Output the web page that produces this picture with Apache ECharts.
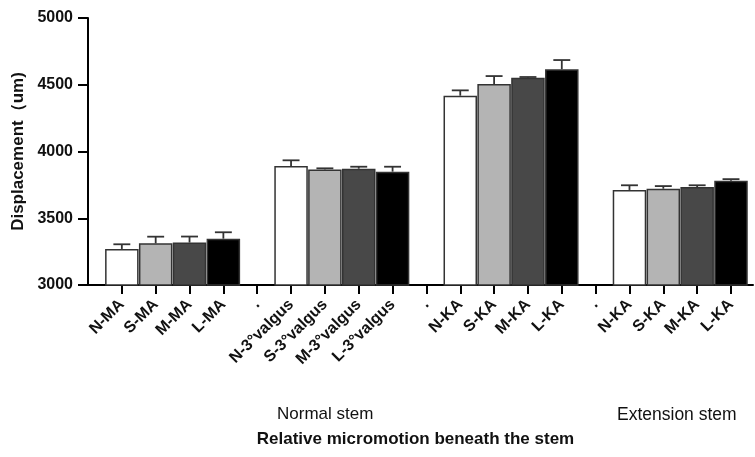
<!DOCTYPE html>
<html>
<head>
<meta charset="utf-8">
<script src="https://cdn.jsdelivr.net/npm/echarts@6/dist/echarts.min.js"></script>
<style>
html,body{margin:0;padding:0;background:#fff;}
#chart{width:755px;height:457px;}
</style>
</head>
<body>
<div id="chart"></div>
<script>
const categories = ['N-MA','S-MA','M-MA','L-MA','.','N-3°valgus','S-3°valgus','M-3°valgus','L-3°valgus','.','N-KA','S-KA','M-KA','L-KA','.','N-KA','S-KA','M-KA','L-KA'];
const means  = [3270,3312,3318,3347,null,3891,3866,3871,3849,null,4418,4505,4553,4616,null,3712,3721,3734,3781];
const errors = [35,50,45,48,null,43,8,15,37,null,40,60,5,69,null,35,20,13,12];
const yTicks = [3000,3500,4000,4500,5000];
const groupNames = ['Normal stem','Extension stem'];
const yTitle = 'Displacement（um)';
const xTitle = 'Relative micromotion beneath the stem';

const fills = ['#ffffff','#b4b4b4','#484848','#000000'];
const FONT = '"Liberation Sans", Arial, Helvetica, sans-serif';

const idx = categories.map((c,i)=>i);
const barData = [];
const errData = [];
means.forEach((v,i)=>{
  if (v == null) return;
  barData.push({value:[i,v], itemStyle:{color: fills[i % 5]}});
  errData.push([i, v, v + errors[i]]);
});

const chart = echarts.init(document.getElementById('chart'), null, {renderer:'canvas'});
chart.setOption({
  animation:false,
  backgroundColor:'#ffffff',
  grid:{left:88, right:2, top:18, bottom:172, containLabel:false},
  title:[
    {text:groupNames[0], left:272, top:401, textStyle:{fontFamily:FONT, fontSize:17, fontWeight:'normal', color:'#111'}},
    {text:groupNames[1], left:612, top:401, textStyle:{fontFamily:FONT, fontSize:17.5, fontWeight:'normal', color:'#111'}}
  ],
  xAxis:{
    type:'value', min:-1, max:18.65,
    name:xTitle, nameLocation:'middle', nameGap:146,
    nameTextStyle:{fontFamily:FONT, fontSize:17, fontWeight:'bold', color:'#111', padding:[0,10,0,0]},
    splitLine:{show:false},
    axisLine:{show:true, onZero:false, lineStyle:{color:'#000', width:2}},
    axisTick:{show:true, length:9, lineStyle:{color:'#000', width:2}, customValues: idx},
    axisLabel:{
      customValues: idx,
      rotate:45, margin:17, fontFamily:FONT, fontSize:16, fontWeight:'bold', color:'#111',
      formatter:(v)=>categories[Math.round(v)] ?? ''
    }
  },
  yAxis:{
    type:'value', min:yTicks[0], max:yTicks[yTicks.length-1], interval:500,
    name:yTitle, nameLocation:'middle', nameGap:58, nameRotate:90,
    nameTextStyle:{fontFamily:FONT, fontSize:17, fontWeight:'bold', color:'#111'},
    splitLine:{show:false},
    axisLine:{show:true, onZero:false, lineStyle:{color:'#000', width:2}},
    axisTick:{show:true, length:10, lineStyle:{color:'#000', width:2}},
    axisLabel:{margin:15, fontFamily:FONT, fontSize:16, fontWeight:'bold', color:'#111',
      formatter:(v)=>String(v)}
  },
  series:[
    {
      type:'bar', data:barData, barWidth:'99%',
      itemStyle:{borderColor:'#333', borderWidth:1.5},
      z:2
    },
    {
      type:'custom', z:3,
      data:errData,
      renderItem:(params, api)=>{
        const x = api.value(0);
        const base = api.coord([x, api.value(1)]);
        const top = api.coord([x, api.value(2)]);
        const half = api.size([0.25, 0])[0];
        return {type:'group', children:[
          {type:'line', shape:{x1:base[0], y1:base[1], x2:top[0], y2:top[1]}, style:{stroke:'#333', lineWidth:1.8}},
          {type:'line', shape:{x1:top[0]-half, y1:top[1], x2:top[0]+half, y2:top[1]}, style:{stroke:'#333', lineWidth:1.8}}
        ]};
      }
    }
  ]
});
</script>
</body>
</html>
